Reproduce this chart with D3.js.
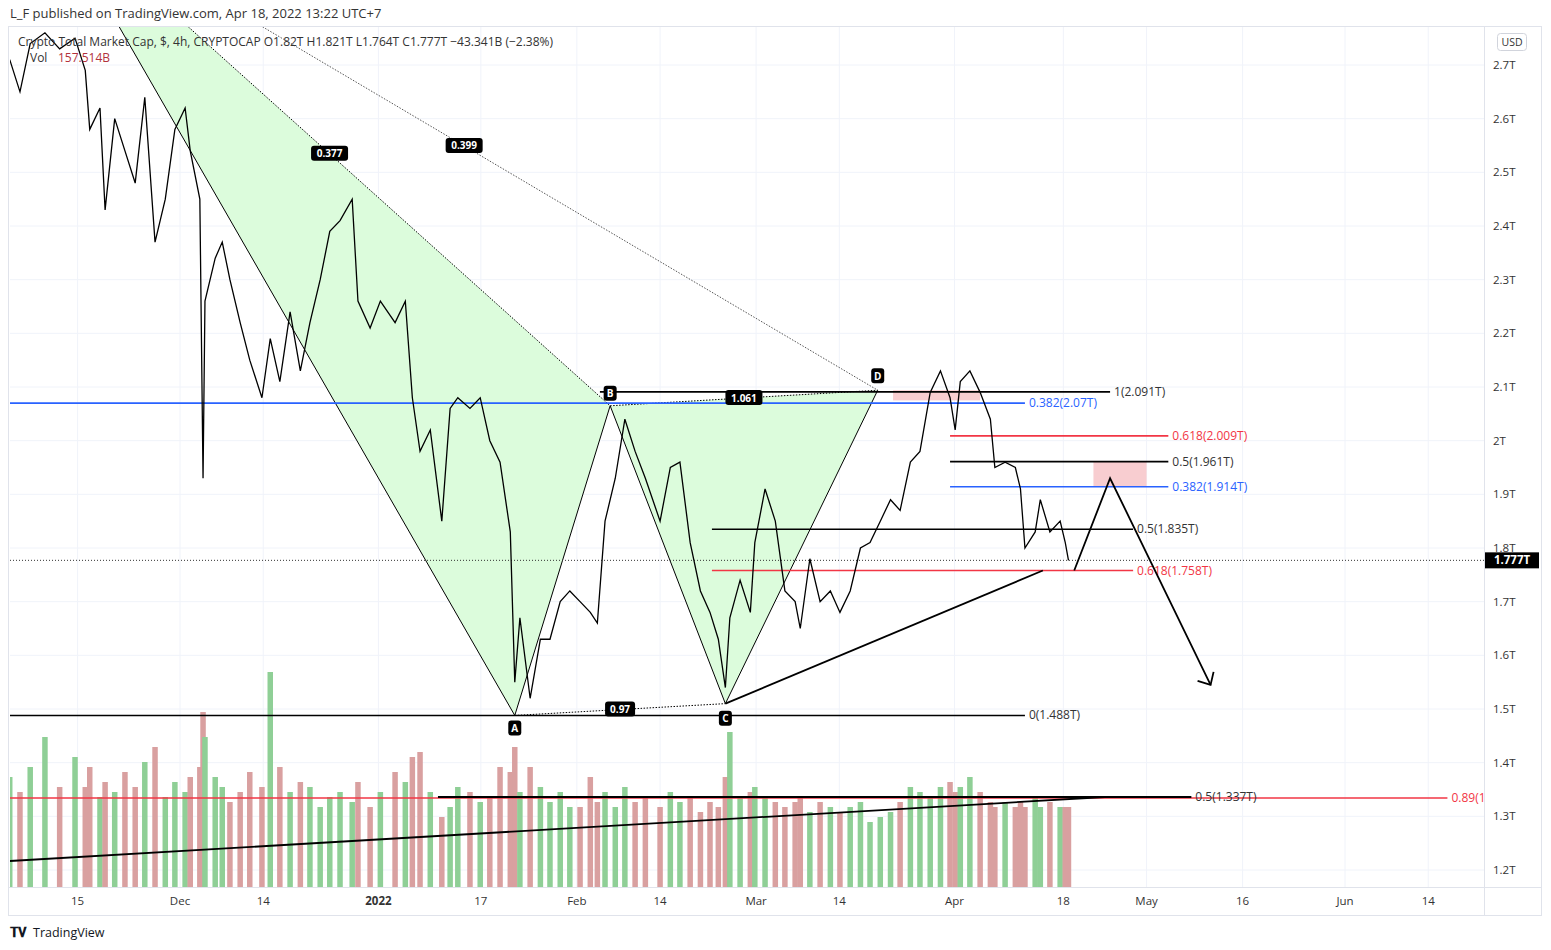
<!DOCTYPE html>
<html><head><meta charset="utf-8">
<script src="https://cdn.jsdelivr.net/npm/d3@7"></script>
<style>body{margin:0;background:#fff;font-family:"Open Sans","DejaVu Sans",sans-serif}</style>
</head><body><svg id="c" width="1551" height="950"></svg>
<script>
// days counted from 2021-12-01
const priceDay = [-26.6,-25,-23.4,-21.1,-18.8,-16.4,-14.8,-14.1,-12.5,-11.7,-10.2,-8.6,-7,-5.5,-3.9,-2.3,-0.8,0.8,1.6,3.1,3.6,3.9,5.5,6.6,7.8,9.4,10.9,12.8,14.1,15.6,17.2,18.8,20.3,21.9,23.4,25,26.9,27.8,29.7,31.3,33.6,35.2,36.3,37.5,39.1,40.9,42.2,43.4,45.3,46.9,48.4,50,51.6,52.3,53.1,54.7,56.3,57.8,59.4,60.9,62.5,64.1,65.2,66.4,68,69.5,71.1,72.7,75,76.6,78.1,79.7,81.3,82.8,84.1,85.2,85.9,87.5,89.1,89.8,91.4,93,94.5,96.1,96.9,98.4,100,101.6,103.1,104.7,106.3,107.8,109.4,111,112.5,114.1,115.6,117.2,118.8,120.3,121.1,121.9,123.4,125,126.6,127.3,128.9,130.5,131.3,132,133.6,134.4,135.9,137.5,138.3,138.8];
const priceT = [2.71,2.65,2.74,2.76,2.73,2.75,2.69,2.58,2.62,2.43,2.60,2.54,2.48,2.64,2.37,2.45,2.58,2.62,2.54,2.45,1.93,2.26,2.34,2.37,2.30,2.22,2.15,2.08,2.19,2.11,2.24,2.13,2.22,2.30,2.39,2.41,2.45,2.26,2.21,2.26,2.22,2.26,2.08,1.98,2.02,1.85,2.06,2.08,2.06,2.08,2.00,1.96,1.83,1.55,1.67,1.52,1.63,1.63,1.70,1.72,1.70,1.68,1.66,1.85,1.93,2.04,1.98,1.93,1.85,1.95,1.96,1.81,1.72,1.68,1.63,1.54,1.67,1.74,1.68,1.81,1.91,1.85,1.72,1.70,1.65,1.78,1.70,1.72,1.68,1.72,1.80,1.81,1.85,1.89,1.87,1.96,1.98,2.09,2.13,2.08,2.02,2.11,2.13,2.09,2.04,1.95,1.96,1.95,1.91,1.80,1.83,1.89,1.83,1.85,1.81,1.777];
// volume (B), one per price point
const volumeB = [110,95,120,150,100,130,100,120,90,105,95,115,100,125,140,90,105,95,110,120,175,150,110,100,85,95,115,100,215,120,95,105,100,80,90,95,85,105,80,95,115,105,130,135,95,70,80,100,95,85,90,120,115,140,95,120,100,85,95,80,80,110,85,95,80,100,85,90,80,95,85,90,75,85,80,110,155,90,95,100,90,85,80,85,90,75,85,80,75,80,85,65,70,75,85,100,95,90,100,105,95,100,110,95,85,80,85,80,85,80,90,80,85,80,80,80];
const yTicks = [1.2,1.3,1.4,1.5,1.6,1.7,1.8,1.9,2,2.1,2.2,2.3,2.4,2.5,2.6,2.7];
const xTicks = [["2021-11-15","15"],["2021-12-01","Dec"],["2021-12-14","14"],["2022-01-01","2022"],["2022-01-17","17"],["2022-02-01","Feb"],["2022-02-14","14"],["2022-03-01","Mar"],["2022-03-14","14"],["2022-04-01","Apr"],["2022-04-18","18"],["2022-05-01","May"],["2022-05-16","16"],["2022-06-01","Jun"],["2022-06-14","14"]];
// XABCD pattern [day, value]
const pX = [-21, 3.01], pA = [52.3, 1.488], pB = [67.2, 2.065], pC = [85.2, 1.51], pD = [109, 2.094];
// fib levels [fromDay, toDay, value, color, label]
const fibLevels = [
  [-26.6, 132, 2.07, "#2962ff", "0.382(2.07T)"],
  [65.6, 145.3, 2.091, "#000", "1(2.091T)"],
  [-26.6, 132, 1.488, "#000", "0(1.488T)"],
  [120.3, 154.4, 2.009, "#f23645", "0.618(2.009T)"],
  [120.3, 154.4, 1.961, "#000", "0.5(1.961T)"],
  [120.3, 154.4, 1.914, "#2962ff", "0.382(1.914T)"],
  [83.1, 148.9, 1.835, "#000", "0.5(1.835T)"],
  [83.1, 148.9, 1.758, "#f23645", "0.618(1.758T)"]
];
const projPath = [[139.7, 1.758], [145.3, 1.93], [161, 1.545]];
const supportLine = [[85.2, 1.51], [134.8, 1.758]];
const pinkZones = [[111.4, 125, 2.094, 2.075], [142.7, 151, 1.961, 1.914]];
const lastPrice = 1.777;

const base = new Date(2021, 11, 1);
const day = d => new Date(base.getTime() + d * 864e5);
const svg = d3.select("#c");
const L = 10, R = 1484, T = 27, B = 887;
const x = d3.scaleTime().domain([day(0), day(182)]).range([180, 1345]);
const y = d3.scaleLinear().domain([1.2, 2.7]).range([870, 65]);
const yv = d3.scaleLinear().domain([0, 215]).range([B, 672]);
const X = p => x(day(p[0])), Y = p => y(p[1]);

svg.append("text").attr("x", 10).attr("y", 18).attr("font-size", 13).attr("fill", "#333").text("L_F published on TradingView.com, Apr 18, 2022 13:22 UTC+7");
svg.append("rect").attr("x", 8.5).attr("y", T - 0.5).attr("width", 1533).attr("height", 889).attr("fill", "none").attr("stroke", "#e0e3eb");
svg.append("defs").append("clipPath").attr("id", "pc").append("rect").attr("x", L).attr("y", T).attr("width", R - L).attr("height", B - T);
const g = svg.append("g").attr("clip-path", "url(#pc)");

// grid
yTicks.forEach(v => g.append("line").attr("x1", L).attr("x2", R).attr("y1", y(v)).attr("y2", y(v)).attr("stroke", "#f0f3fa"));
xTicks.forEach(t => g.append("line").attr("x1", x(new Date(t[0]))).attr("x2", x(new Date(t[0]))).attr("y1", T).attr("y2", B).attr("stroke", "#f0f3fa"));

// volume
const bw = 5.5;
g.selectAll(".vol").data(volumeB).enter().append("rect")
  .attr("x", (d, i) => x(day(priceDay[i])) - bw / 2).attr("width", bw)
  .attr("y", d => yv(d)).attr("height", d => B - yv(d))
  .attr("fill", (d, i) => i > 0 && priceT[i] < priceT[i - 1] ? "#d9a0a0" : "#8fcf96");

// pattern fills
g.append("path").attr("d", d3.line()([[X(pX), Y(pX)], [X(pA), Y(pA)], [X(pB), Y(pB)]])).attr("fill", "#dcfcdc").attr("stroke", "none");
g.append("path").attr("d", d3.line()([[X(pB), Y(pB)], [X(pC), Y(pC)], [X(pD), Y(pD)]])).attr("fill", "#dcfcdc").attr("stroke", "none");
const seg = (a, b, dash, w, c) => g.append("line").attr("x1", X(a)).attr("y1", Y(a)).attr("x2", X(b)).attr("y2", Y(b)).attr("stroke", c || "#000").attr("stroke-width", w || 1).attr("stroke-dasharray", dash || null);
seg(pX, pA); seg(pA, pB); seg(pB, pC); seg(pC, pD);
seg(pX, pB, "1.5,1.5"); seg(pX, pD, "1.5,1.5", 1, "#555"); seg(pA, pC, "1.5,1.5"); seg(pB, pD, "1.5,1.5");

// pink zones
pinkZones.forEach(z => g.append("rect").attr("x", x(day(z[0]))).attr("width", x(day(z[1])) - x(day(z[0])))
  .attr("y", y(z[2])).attr("height", y(z[3]) - y(z[2])).attr("fill", "#f8cdd0"));

// fib lines
fibLevels.forEach(f => {
  g.append("line").attr("x1", x(day(f[0]))).attr("x2", x(day(f[1]))).attr("y1", y(f[2])).attr("y2", y(f[2])).attr("stroke", f[3]).attr("stroke-width", 1.6);
  g.append("text").attr("x", x(day(f[1])) + 4).attr("y", y(f[2]) + 4).attr("font-size", 12).attr("fill", f[3] === "#000" ? "#333" : f[3]).text(f[4]);
});

// last price dotted line
g.append("line").attr("x1", L).attr("x2", R).attr("y1", y(lastPrice)).attr("y2", y(lastPrice)).attr("stroke", "#333").attr("stroke-dasharray", "1,2");

// price
g.append("path").datum(priceDay.map((d, i) => [x(day(d)), y(priceT[i])]))
  .attr("d", d3.line()).attr("fill", "none").attr("stroke", "#000").attr("stroke-width", 1.3);

// support + projection
seg(supportLine[0], supportLine[1], null, 1.8);
g.append("path").attr("d", d3.line()(projPath.map(p => [X(p), Y(p)]))).attr("fill", "none").attr("stroke", "#000").attr("stroke-width", 1.8);
const tip = projPath[2];
g.append("path").attr("d", `M${X(tip) - 13},${Y(tip) - 4} L${X(tip)},${Y(tip)} L${X(tip) + 3},${Y(tip) - 13}`).attr("fill", "none").attr("stroke", "#000").attr("stroke-width", 1.8);

// volume-pane lines (in volume units)
const volLines = [[-26.6, 198, 89, "#f23645", 1.3, "0.89(1"], [40.3, 158, 90, "#000", 2, "0.5(1.337T)"]];
volLines.forEach(l => {
  g.append("line").attr("x1", x(day(l[0]))).attr("x2", x(day(l[1]))).attr("y1", yv(l[2])).attr("y2", yv(l[2])).attr("stroke", l[3]).attr("stroke-width", l[4]);
  g.append("text").attr("x", x(day(l[1])) + 4).attr("y", yv(l[2]) + 4).attr("font-size", 12).attr("fill", l[3] === "#000" ? "#333" : l[3]).text(l[5]);
});
const volTrend = [[-26.6, 26], [144.5, 90]];
g.append("line").attr("x1", x(day(volTrend[0][0]))).attr("y1", yv(volTrend[0][1])).attr("x2", x(day(volTrend[1][0]))).attr("y2", yv(volTrend[1][1])).attr("stroke", "#000").attr("stroke-width", 1.8);

// point labels
const tag = (px, py, txt, pad) => {
  const w = txt.length * 7 + (pad || 6);
  g.append("rect").attr("x", px - w / 2).attr("y", py - 8).attr("width", w).attr("height", 15).attr("rx", 3).attr("fill", "#000");
  g.append("text").attr("x", px).attr("y", py + 3.5).attr("text-anchor", "middle").attr("font-size", 10).attr("font-weight", "bold").attr("fill", "#fff").text(txt);
};
tag(X(pA), Y(pA) + 13, "A"); tag(X(pB), Y(pB) - 12, "B"); tag(X(pC), Y(pC) + 15, "C"); tag(X(pD), Y(pD) - 14, "D");
tag((X(pA) + X(pC)) / 2, (Y(pA) + Y(pC)) / 2, "0.97", 2);
tag((X(pB) + X(pD)) / 2, (Y(pB) + Y(pD)) / 2, "1.061", 2);
const xbT = 0.503, xdT = 0.503;
tag(X(pX) + (X(pB) - X(pX)) * xbT, Y(pX) + (Y(pB) - Y(pX)) * xbT, "0.377", 2);
tag(X(pX) + (X(pD) - X(pX)) * xdT, Y(pX) + (Y(pD) - Y(pX)) * xdT, "0.399", 2);

// header legend
svg.append("text").attr("x", 18).attr("y", 46).attr("font-size", 12).attr("fill", "#333").text("Crypto Total Market Cap, $, 4h, CRYPTOCAP   O1.82T   H1.821T   L1.764T   C1.777T   \u221243.341B (\u22122.38%)");
svg.append("text").attr("x", 30).attr("y", 62).attr("font-size", 12).attr("fill", "#333").text("Vol");
svg.append("text").attr("x", 58).attr("y", 62).attr("font-size", 12).attr("fill", "#b2323c").text("157.514B");

// axes
svg.append("line").attr("x1", R + 0.5).attr("x2", R + 0.5).attr("y1", T).attr("y2", 915).attr("stroke", "#e0e3eb");
svg.append("line").attr("x1", 8).attr("x2", 1541).attr("y1", B + 0.5).attr("y2", B + 0.5).attr("stroke", "#e0e3eb");
yTicks.forEach(v => svg.append("text").attr("x", 1493).attr("y", y(v) + 4).attr("font-size", 11.5).attr("fill", "#333").text(v + "T"));
xTicks.forEach(t => svg.append("text").attr("x", x(new Date(t[0]))).attr("y", 905).attr("text-anchor", "middle").attr("font-size", 11.5)
  .attr("font-weight", t[1] === "2022" ? "bold" : null).attr("fill", "#333").text(t[1]));
svg.append("rect").attr("x", R + 1).attr("y", y(lastPrice) - 8).attr("width", 54).attr("height", 16).attr("fill", "#000");
svg.append("text").attr("x", R + 28).attr("y", y(lastPrice) + 4).attr("text-anchor", "middle").attr("font-size", 11.5).attr("font-weight", "bold").attr("fill", "#fff").text(lastPrice + "T");
svg.append("rect").attr("x", 1497.5).attr("y", 33.5).attr("width", 29).attr("height", 17).attr("rx", 3).attr("fill", "#fff").attr("stroke", "#d1d4dc");
svg.append("text").attr("x", 1512).attr("y", 46).attr("text-anchor", "middle").attr("font-size", 10.5).attr("fill", "#333").text("USD");
svg.append("text").attr("x", 10).attr("y", 937).attr("font-size", 12.5).attr("font-weight", "bold").attr("fill", "#131722").text("\u{1D413}\u{1D415}");
svg.append("text").attr("x", 33).attr("y", 937).attr("font-size", 12.5).attr("fill", "#131722").text("TradingView");
</script></body></html>
